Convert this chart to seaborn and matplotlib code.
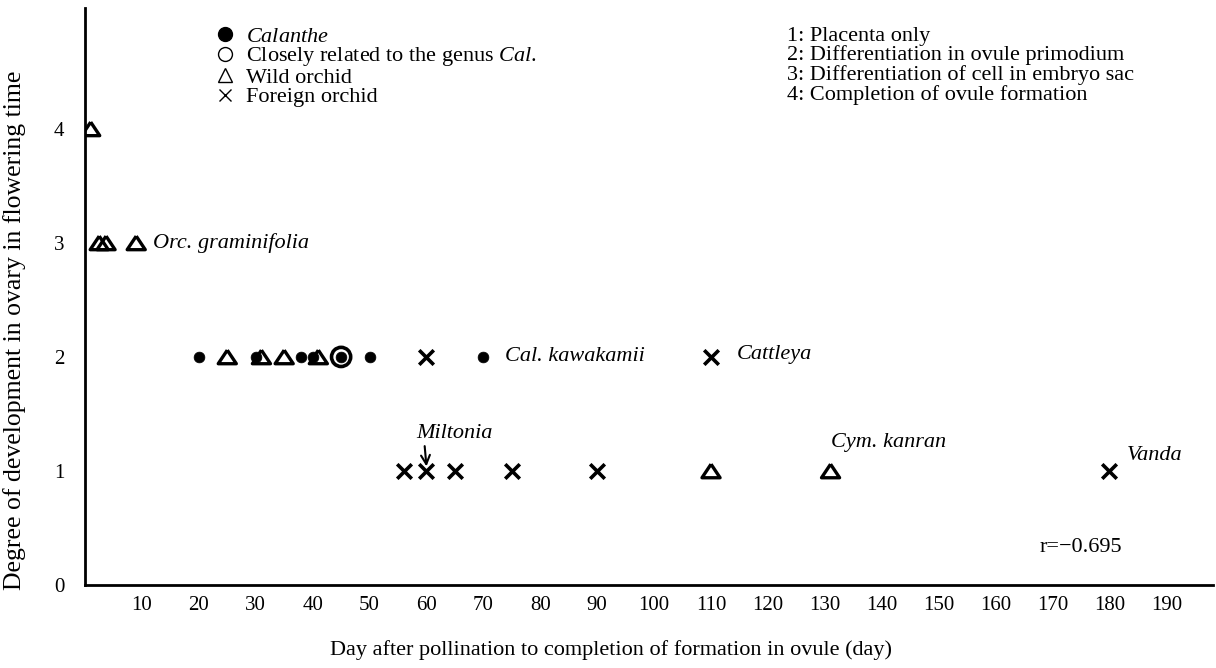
import matplotlib
matplotlib.use("Agg")
import matplotlib.pyplot as plt
from matplotlib.lines import Line2D
import seaborn as sns
import pandas as pd

# ---- data ----
calanthe_day = [20, 30, 38, 40, 45, 50, 70]
calanthe_deg = [2, 2, 2, 2, 2, 2, 2]

related_day = [45]
related_deg = [2]

wild_day = [1, 2.5, 3.7, 9, 25, 31, 35, 41, 110, 131]
wild_deg = [4, 3, 3, 3, 2, 2, 2, 2, 1, 1]

foreign_day = [60, 110, 56, 60, 65, 75, 90, 180]
foreign_deg = [2, 2, 1, 1, 1, 1, 1, 1]

x_ticks = [10, 20, 30, 40, 50, 60, 70, 80, 90, 100, 110, 120, 130, 140, 150, 160, 170, 180, 190]
y_ticks = [0, 1, 2, 3, 4]

legend_labels = [r"$\mathit{Calanthe}$",
                 r"Closely related to the genus $\mathit{Cal.}$",
                 "Wild orchid",
                 "Foreign orchid"]
stage_lines = ["1: Placenta only",
               "2: Differentiation in ovule primodium",
               "3: Differentiation of cell in embryo sac",
               "4: Completion of ovule formation"]

sns.set_theme(style="white")
plt.rcParams["font.family"] = ["Liberation Serif", "DejaVu Serif"]
plt.rcParams["mathtext.fontset"] = "custom"
plt.rcParams["mathtext.rm"] = "Liberation Serif"
plt.rcParams["mathtext.it"] = "Liberation Serif:italic"

FS = 16
TFS = 15

fig = plt.figure(figsize=(12.16, 6.68), dpi=100)
ax = fig.add_axes([85 / 1216, (668 - 585) / 668, (1213 - 85) / 1216, (585 - 8) / 668])

df_cal = pd.DataFrame({"day": calanthe_day, "deg": calanthe_deg})
df_rel = pd.DataFrame({"day": related_day, "deg": related_deg})
df_wild = pd.DataFrame({"day": wild_day, "deg": wild_deg})
df_for = pd.DataFrame({"day": foreign_day, "deg": foreign_deg})

tri = [(0, 0.75), (-1, -0.75), (1, -0.75), (0, 0.75)]

sns.scatterplot(data=df_rel, x="day", y="deg", ax=ax, marker="o", s=190,
                facecolor="none", edgecolor="black", linewidth=2.6, zorder=3)
sns.scatterplot(data=df_cal, x="day", y="deg", ax=ax, marker="o", s=60,
                color="black", edgecolor="black", linewidth=0.5, zorder=4)
sns.scatterplot(data=df_wild, x="day", y="deg", ax=ax, marker=tri, s=170,
                facecolor="none", edgecolor="black", linewidth=2.4, zorder=3)
sns.scatterplot(data=df_for, x="day", y="deg", ax=ax, marker="x", s=110,
                color="black", linewidth=2.6, zorder=3)

ax.set_xlim(0, 198.2)
ax.set_ylim(0, 5.06)
ax.set_xticks(x_ticks)
ax.set_xticklabels([str(t) for t in x_ticks], fontsize=TFS)
ax.set_yticks(y_ticks)
ax.set_yticklabels([str(t) for t in y_ticks], fontsize=TFS)
ax.tick_params(axis="both", direction="in", length=5, width=1.6, color="black",
               labelcolor="black")
ax.tick_params(axis="x", pad=8)
ax.tick_params(axis="y", pad=15)
for s in ["top", "right"]:
    ax.spines[s].set_visible(False)
for s in ["left", "bottom"]:
    ax.spines[s].set_color("black")
    ax.spines[s].set_linewidth(2.0)

ax.set_xlabel("Day after pollination to completion of formation in ovule (day)",
              fontsize=FS, color="black")
ax.xaxis.set_label_coords((611 - 85) / 1128, (585 - 650) / 577)
ax.xaxis.label.set_va("center")
ax.set_ylabel("Degree of development in ovary in flowering time",
              fontsize=18.5, color="black")
ax.yaxis.set_label_coords((15 - 85) / 1128, (585 - 330) / 577)
ax.yaxis.label.set_va("center")

# legend
handles = [
    Line2D([], [], marker="o", linestyle="none", markersize=10, color="black"),
    Line2D([], [], marker="o", linestyle="none", markersize=10, markerfacecolor="none",
           markeredgecolor="black", markeredgewidth=1.0),
    Line2D([], [], marker="^", linestyle="none", markersize=10, markerfacecolor="none",
           markeredgecolor="black", markeredgewidth=1.0),
    Line2D([], [], marker="x", linestyle="none", markersize=9, color="black",
           markeredgewidth=1.0),
]
leg = ax.legend(handles, legend_labels, loc="upper left",
                bbox_to_anchor=((216 - 85) / 1128, (585 - 26) / 577),
                frameon=False, fontsize=FS, handlelength=0.8, handletextpad=0.55,
                labelspacing=-0.05, borderpad=0, borderaxespad=0)
for t in leg.get_texts():
    t.set_color("black")

ax.text(123.4, (585 - 27) / 114, "\n".join(stage_lines), fontsize=FS,
        ha="left", va="top", linespacing=0.98, color="black")

# point annotations
it = dict(fontsize=FS, style="italic", color="black", va="center", ha="left")
ax.text(11.9, 3.0, "Orc. graminifolia", **it)
ax.text(73.8, 2.0, "Cal. kawakamii", **it)
ax.text(114.6, 2.02, "Cattleya", **it)
ax.text(131, 1.25, "Cym. kanran", **it)
ax.text(183.1, 1.14, "Vanda", **it)
ax.annotate("Miltonia", xy=(60, 1.04), xytext=(65, 1.33), ha="center", va="center",
            fontsize=FS, style="italic", color="black",
            arrowprops=dict(arrowstyle="->", color="black", lw=1.5,
                            shrinkA=0, shrinkB=0, relpos=(0.1, 0.0)))
ax.text(167.8, 0.333, "r=\u22120.695", fontsize=FS, color="black", ha="left", va="center")

fig.savefig("out.png", dpi=100, facecolor="white")
